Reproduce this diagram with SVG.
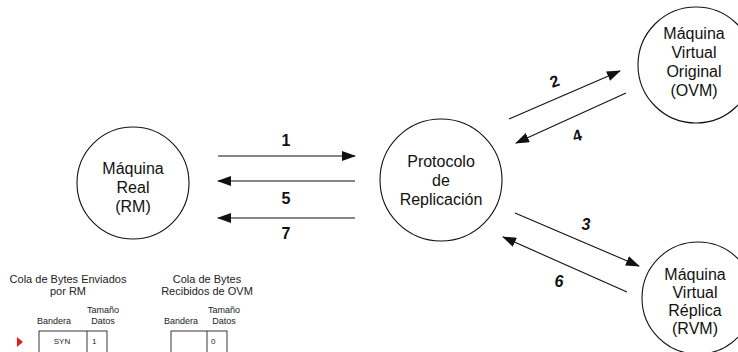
<svg xmlns="http://www.w3.org/2000/svg" width="738" height="352" viewBox="0 0 738 352">
  <defs>
    <marker id="ah" viewBox="0 0 14 10" refX="13" refY="5" markerWidth="14" markerHeight="10" markerUnits="userSpaceOnUse" orient="auto">
      <path d="M0,0 L14,5 L0,10 Z" fill="#111"/>
    </marker>
    <style>
      .node circle { fill: #fff; stroke: #111; stroke-width: 1.1; }
      .nt { font-family: "Liberation Sans", Arial, sans-serif; font-size: 16px; fill: #111; text-anchor: middle; }
      .conn line { stroke: #111; stroke-width: 1.1; marker-end: url(#ah); }
      .lbl { font-family: "Liberation Sans", Arial, sans-serif; font-size: 16px; font-weight: bold; fill: #111; text-anchor: middle; }
      .it { font-style: italic; }
      .qt { font-family: "Liberation Sans", Arial, sans-serif; font-size: 11px; fill: #222; text-anchor: middle; }
      .qs { font-family: "Liberation Sans", Arial, sans-serif; font-size: 9px; fill: #222; text-anchor: middle; }
      .qc { font-family: "Liberation Sans", Arial, sans-serif; font-size: 8px; fill: #222; }
      .box { fill: #fff; stroke: #222; stroke-width: 0.9; }
    </style>
  </defs>

  <rect width="738" height="352" fill="#fff"/>

  <!-- Nodes -->
  <g id="rm" class="node">
    <circle cx="133" cy="183" r="56"/>
    <text class="nt" x="133" y="174">Máquina</text>
    <text class="nt" x="133" y="193">Real</text>
    <text class="nt" x="133" y="212">(RM)</text>
  </g>

  <g id="protocolo" class="node">
    <circle cx="441" cy="180" r="61"/>
    <text class="nt" x="441" y="167">Protocolo</text>
    <text class="nt" x="441" y="186">de</text>
    <text class="nt" x="441" y="205">Replicación</text>
  </g>

  <g id="ovm" class="node">
    <circle cx="696" cy="65" r="58"/>
    <text class="nt" x="694" y="39">Máquina</text>
    <text class="nt" x="694" y="58">Virtual</text>
    <text class="nt" x="694" y="77">Original</text>
    <text class="nt" x="694" y="96">(OVM)</text>
  </g>

  <g id="rvm" class="node">
    <circle cx="698" cy="298" r="56"/>
    <text class="nt" x="695" y="280">Máquina</text>
    <text class="nt" x="695" y="298">Virtual</text>
    <text class="nt" x="695" y="316">Réplica</text>
    <text class="nt" x="695" y="334">(RVM)</text>
  </g>

  <!-- Connectors -->
  <g id="connectors" class="conn">
    <line x1="218" y1="156" x2="355" y2="156"/>
    <line x1="355" y1="181" x2="218" y2="181"/>
    <line x1="355" y1="218" x2="218" y2="218"/>
    <line x1="509" y1="119" x2="620" y2="71"/>
    <line x1="626" y1="93" x2="516" y2="143"/>
    <line x1="515" y1="213" x2="639" y2="266"/>
    <line x1="627" y1="292" x2="503" y2="237"/>
  </g>

  <!-- Step numbers -->
  <g id="labels">
    <text class="lbl" x="286" y="146">1</text>
    <text class="lbl" x="286" y="204">5</text>
    <text class="lbl" x="286" y="239">7</text>
    <text class="lbl" x="554" y="87" font-size="18" transform="rotate(-20 554 80)">2</text>
    <text class="lbl" x="577" y="141" font-size="17" transform="rotate(-15 577 135)">4</text>
    <text class="lbl it" x="586" y="230">3</text>
    <text class="lbl it" x="559" y="287">6</text>
  </g>

  <!-- Byte queues -->
  <g id="cola-enviados">
    <text class="qt" x="68" y="283">Cola de Bytes Enviados</text>
    <text class="qt" x="68" y="295">por RM</text>
    <text class="qs" x="54" y="324">Bandera</text>
    <text class="qs" x="103" y="313">Tamaño</text>
    <text class="qs" x="103" y="324">Datos</text>
    <rect class="box" x="39" y="331" width="68" height="30"/>
    <line x1="87" y1="331" x2="87" y2="361" stroke="#222" stroke-width="0.9"/>
    <text class="qc" x="62" y="344" text-anchor="middle">SYN</text>
    <text class="qc" x="92" y="344">1</text>
    <path d="M17,337 L23,342 L17,347 Z" fill="#e0201c"/>
  </g>

  <g id="cola-recibidos">
    <text class="qt" x="207" y="283">Cola de Bytes</text>
    <text class="qt" x="207" y="295">Recibidos de OVM</text>
    <text class="qs" x="181" y="324">Bandera</text>
    <text class="qs" x="224" y="313">Tamaño</text>
    <text class="qs" x="224" y="324">Datos</text>
    <rect class="box" x="171" y="331" width="56" height="30"/>
    <line x1="207" y1="331" x2="207" y2="361" stroke="#222" stroke-width="0.9"/>
    <text class="qc" x="211" y="344">0</text>
  </g>
</svg>
